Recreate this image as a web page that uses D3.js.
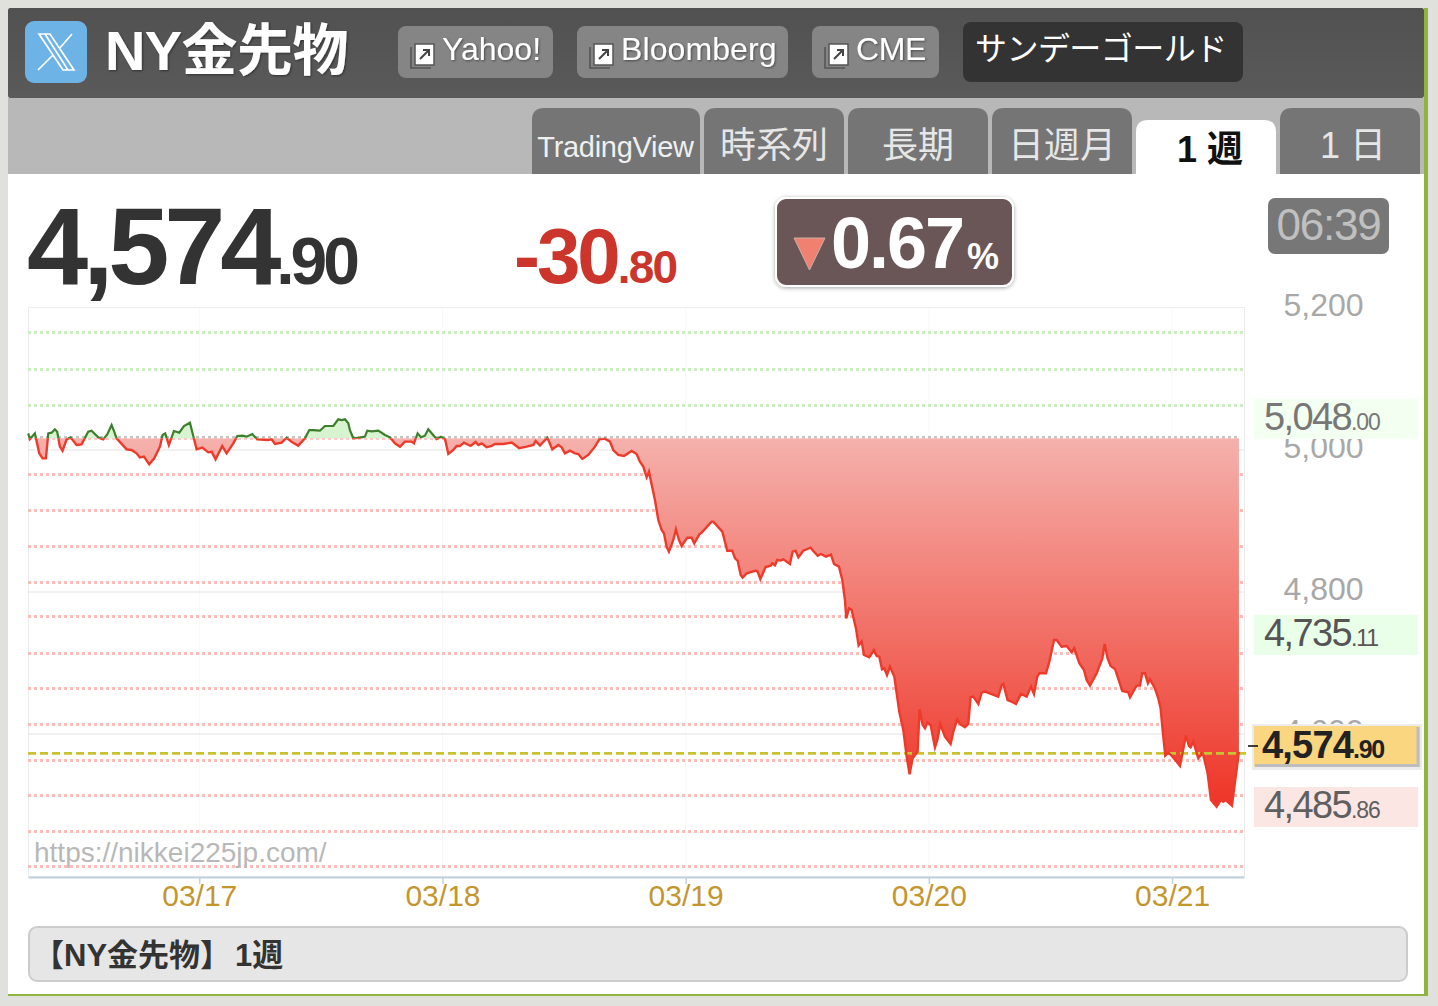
<!DOCTYPE html>
<html><head><meta charset="utf-8">
<script src="https://cdn.jsdelivr.net/npm/d3@7"></script>
<style>
html,body{margin:0;padding:0;background:#e0e0dc;overflow:hidden}
svg{display:block}
text{font-family:"Liberation Sans",Arial,sans-serif}
.cjk{font-family:"Liberation Sans","Noto Sans CJK JP",sans-serif}
</style></head><body>
<div id="chart"></div>
<script>
// hours relative to 03/17 00:00
const hours = [-16.88,-16.71,-16.22,-15.79,-15.46,-15.13,-14.90,-14.57,-14.25,-14.02,-13.75,-13.49,-13.09,-12.70,-12.11,-11.61,-10.96,-10.63,-9.97,-9.48,-9.08,-8.65,-8.39,-8.16,-7.17,-6.68,-6.19,-5.86,-5.46,-4.94,-4.44,-3.88,-3.62,-3.36,-3.00,-2.50,-1.97,-1.51,-0.92,-0.26,0.30,0.89,1.22,1.61,2.27,2.70,3.36,3.75,4.28,4.67,5.23,5.72,6.81,7.14,7.47,8.13,8.62,9.11,9.77,10.43,10.86,11.25,11.91,12.40,13.23,13.72,14.05,14.38,14.71,14.87,
15.2,15.86,16.35,16.58,17.01,17.67,18.33,18.82,19.31,19.81,20.3,20.96,21.19,21.55,21.88,22.27,22.6,23.42,23.85,24.25,24.58,25.07,25.4,25.73,26.12,26.78,27.27,27.54,27.87,28.36,28.85,29.18,30.0,30.83,31.16,31.58,32.31,32.97,33.2,33.62,34.35,34.84,35.43,35.76,36.09,36.58,37.08,37.41,37.8,38.39,39.05,39.48,40.04,40.53,40.86,41.35,41.91,42.67,43.16,43.49,43.82,44.15,44.38,44.97,
45.30,45.63,45.86,46.12,46.35,46.78,47.04,47.34,47.6,48.16,48.59,48.85,49.35,49.58,50.56,50.73,51.62,52.11,52.6,52.87,53.13,53.43,53.62,54.02,54.94,55.1,55.37,55.89,56.39,56.55,56.81,57.04,57.37,57.64,58.29,58.56,58.85,59.12,59.61,60.33,60.6,61.03,61.35,61.85,62.34,62.64,63.13,63.46,63.72,63.85,64.12,64.38,64.81,65.07,65.37,65.6,66.12,66.58,66.85,67.11,67.38,67.6,67.87,68.16,68.59,69.08,69.48,69.81,70.1,70.4,70.89,71.09,71.39,71.62,71.85,72.18,72.6,72.84,73.13,
73.59,74.15,74.41,74.81,75.07,75.56,75.89,76.12,76.39,76.88,77.21,77.54,78.85,79.18,79.35,79.77,80.17,80.6,81.09,81.65,82.08,82.37,82.7,82.9,83.56,83.89,84.35,84.61,85.1,85.6,86.09,86.35,86.85,87.31,87.57,87.9,88.56,89.12,89.35,89.64,89.94,90.37,91.09,91.68,91.85,92.5,92.83,93.06,93.33,93.62,93.82,94.31,94.64,94.87,95.07,95.33,95.63,95.96,96.32,96.78,97.37,97.67,97.83,98.1,98.59,98.92,99.08,99.51,99.84,100.4,100.83,101.06,101.26,101.91,102.6];
const prices = [5023.4,5015.5,5023.4,4995.3,4988.2,4988.2,5023.4,5024.4,5029.1,5025.8,5004.7,4999.0,5015.0,5017.8,5007.0,5008.0,5025.8,5027.2,5017.8,5015.0,5022.0,5035.2,5025.8,5016.4,5000.9,5000.0,4995.3,4989.6,4990.6,4979.8,4988.2,5004.7,5021.1,5023.4,5007.0,5026.7,5024.4,5033.8,5038.5,5000.9,5003.3,4996.7,4997.6,4986.8,5005.6,4995.3,5009.4,5019.7,5020.2,5018.8,5022.5,5015.0,5014.1,5015.0,5008.4,5010.3,5017.3,5011.7,5006.1,5016.4,5028.1,5028.1,5027.2,5033.8,5033.8,5043.2,5042.2,5043.2,5037.5,5028.1,
5016.5,5017.4,5018.8,5027.3,5026.3,5027.3,5021.2,5017.9,5009.4,5004.7,5011.8,5011.8,5009.4,5023.5,5017.9,5020.2,5029.2,5015.5,5018.8,5015.5,4994.4,5000.0,5005.7,5005.7,5010.4,5005.7,5011.3,5007.1,5009.4,5003.8,5005.7,5008.5,5008.5,5010.4,5007.1,5002.4,5004.7,5007.1,5012.7,5006.2,5017.4,5001.0,5007.1,5003.8,4995.3,4999.1,4995.3,4994.4,4987.4,4993.0,5004.7,5015.1,5016.0,5011.8,5000.0,4993.0,4991.6,4998.6,4994.4,4983.6,4976.6,4961.5,4969.5,4929.6,
4901.4,4887.3,4882.6,4863.9,4856.8,4873.3,4888.3,4873.3,4864.8,4876.5,4876.5,4868.6,4881.2,4883.6,4899.1,4899.1,4885.0,4858.2,4858.2,4847.4,4844.2,4824.0,4820.2,4826.3,4830.1,4828.7,4818.3,4835.2,4837.1,4840.4,4837.6,4845.1,4844.2,4846.0,4839.5,4856.8,4858.2,4848.8,4858.2,4862.5,4857.8,4851.2,4853.5,4849.8,4852.6,4839.5,4835.7,4816.9,4788.7,4762.9,4777.0,4774.7,4748.8,4724.9,4730.1,4711.3,4708.0,4718.3,4709.9,4708.9,4691.1,4692.5,4683.1,4694.9,4680.8,4631.5,4605.6,4568.1,4543.2,4565.7,4575.1,4634.8,4612.7,4608.0,4616.0,4612.7,4581.2,4591.6,4614.1,
4596.3,4586.0,4603.3,4620.7,4614.1,4609.4,4614.1,4651.7,4652.6,4642.3,4658.2,4659.7,4652.6,4669.0,4670.5,4647.9,4645.6,4642.3,4656.4,4652.6,4666.7,4656.4,4680.8,4685.5,4685.5,4701.9,4732.4,4732.4,4723.0,4724.0,4715.1,4720.7,4699.6,4690.2,4676.1,4668.1,4685.5,4706.6,4726.8,4706.6,4695.8,4691.6,4660.6,4658.7,4651.7,4668.1,4668.1,4685.5,4685.5,4671.4,4677.0,4664.4,4650.3,4636.2,4605.7,4569.5,4573.7,4569.5,4563.4,4555.0,4597.7,4583.1,4581.3,4589.2,4565.8,4571.9,4570.5,4544.6,4507.1,4497.7,4507.1,4504.7,4507.1,4499.1,4574.9];
const basePrice = 5016.5;
const currentLevel = 4572.6;
const greenLevels = [5165,5114,5063];
const redLevels = [4965,4915,4864,4813,4765,4714,4664,4613,4562,4513,4463,4413];
const gridTicks = [5200,5000,4800,4600];
const dayTicks = [0,24,48,72,96];
const dayLabels = ["03/17","03/18","03/19","03/20","03/21"];
const navLinks = ["Yahoo!","Bloomberg","CME"];
const tabNames = ["TradingView","時系列","長期","日週月","1 週","1 日"];
const statBoxes = [
 {main:"5,048",sub:".00",fill:"#f3fff0",color:"#777777"},
 {main:"4,735",sub:".11",fill:"#eaffe8",color:"#555555"},
 {main:"4,485",sub:".86",fill:"#fbe6e4",color:"#5f5f5f"}];

const W=1438,H=1006;
const svg=d3.select("#chart").append("svg").attr("width",W).attr("height",H);
const defs=svg.append("defs");
const gh=defs.append("linearGradient").attr("id","hdr").attr("x1",0).attr("x2",0).attr("y1",0).attr("y2",1);
gh.append("stop").attr("offset",0).attr("stop-color","#515151");
gh.append("stop").attr("offset",1).attr("stop-color","#5a5a5a");
const sh=defs.append("filter").attr("id","soft").attr("x","-20%").attr("y","-20%").attr("width","140%").attr("height","140%");
sh.append("feDropShadow").attr("dx",0).attr("dy",1).attr("stdDeviation",2).attr("flood-color","#000").attr("flood-opacity",0.35);
const ts=defs.append("filter").attr("id","tshadow").attr("x","-10%").attr("y","-10%").attr("width","120%").attr("height","130%");
ts.append("feDropShadow").attr("dx",1).attr("dy",1).attr("stdDeviation",0.8).attr("flood-color","#000").attr("flood-opacity",0.45);

function rect(x,y,w,h,fill,rx,parent){return (parent||svg).append("rect").attr("x",x).attr("y",y).attr("width",w).attr("height",h).attr("fill",fill).attr("rx",rx||0);}
function txt(x,y,s,size,fill,opt){opt=opt||{};const t=(opt.parent||svg).append("text").attr("x",x).attr("y",y).text(s).attr("font-size",size).attr("fill",fill);
 if(opt.bold)t.attr("font-weight","bold"); if(opt.anchor)t.attr("text-anchor",opt.anchor); if(opt.ls!=null)t.attr("letter-spacing",opt.ls); if(opt.cjk)t.attr("class","cjk"); if(opt.filter)t.attr("filter",opt.filter); return t;}

// page frame
rect(8,8,1416,988,"#ffffff");
rect(1424,8,4,988,"#8fb53c");
rect(8,994,1420,2,"#8fb53c");
rect(8,98,1416,76,"#b8b8b8");
rect(8,8,1416,90,"url(#hdr)",2);

// X logo
rect(25,21,62,62,"#6db3e6",9);
svg.append("path").attr("fill","none").attr("stroke","#fff").attr("stroke-width",1.7)
 .attr("d","M39,34 H50 L74,70 H63 Z M45,34 L68,70 M72,34 L59,49 M53,55 L38,70");
txt(105,70,"NY金先物",56,"#fff",{bold:true,cjk:true,ls:-0.6,filter:"url(#tshadow)"});

// nav buttons
const btnX=[[398,155],[577,211],[812,127]];
const navLs=[0,0.1,-0.4];
navLinks.forEach((n,i)=>{
 const [x,w]=btnX[i];
 rect(x,26,w,52,"#858585",8);
 const ix=x+13,iy=44;
 svg.append("path").attr("fill","none").attr("stroke","#555").attr("stroke-width",1.6).attr("d",`M${ix},${iy+3} V${iy+24} H${ix+20}`);
 rect(ix+4,iy,19,21,"#fff",0).attr("stroke","#555").attr("stroke-width",1.5);
 svg.append("path").attr("fill","none").attr("stroke","#444").attr("stroke-width",2).attr("d",`M${ix+9},${iy+15} L${ix+18},${iy+6} M${ix+12},${iy+6} H${ix+18} V${iy+12}`);
 txt(x+44,60,n,32,"#fff",{ls:navLs[i],filter:"url(#tshadow)"});
});
rect(963,22,280,60,"#333333",8);
txt(975,60,"サンデーゴールド",32,"#fff",{cjk:true,ls:-0.55});

// tabs
const tabX=[[532,168],[704,140],[848,140],[992,140],[1136,140],[1280,140]];
const tabShift=[-0.5,0,0,0,4,3];
tabNames.forEach((n,i)=>{
 const [x,w]=tabX[i], active=i==4, top=active?120:108;
 svg.append("path").attr("fill",active?"#fff":"#757575").attr("d",`M${x},174 V${top+12} Q${x},${top} ${x+12},${top} H${x+w-12} Q${x+w},${top} ${x+w},${top+12} V174 Z`);
 if(i==0) txt(x+w/2+tabShift[i],157,n,29,"#f0f0f0",{anchor:"middle",ls:-0.3});
 else txt(x+w/2+tabShift[i],active?162:158,n,36,active?"#111":"#e6e6e6",{anchor:"middle",cjk:true,bold:active});
});

// headline numbers
function priceText(x,y,main,sub,s1,s2,fill,ls1,ls2,bold){
 const t=svg.append("text").attr("x",x).attr("y",y).attr("fill",fill);
 if(bold)t.attr("font-weight","bold");
 t.append("tspan").attr("font-size",s1).attr("letter-spacing",ls1).text(main);
 t.append("tspan").attr("font-size",s2).attr("letter-spacing",ls2).text(sub);
 return t;
}
priceText(27,284,"4,574",".90",110,66,"#333333",-5.2,-4,true);
priceText(514,283,"-30",".80",78,46,"#cc352b",-3,-1.8,true);
rect(776,198,237,88,"#6b5757",10).attr("stroke","#fff").attr("stroke-width",2).attr("filter","url(#soft)");
svg.append("path").attr("d","M794,238 H825 L809.5,270 Z").attr("fill","#f08070").attr("stroke","#c9ada6").attr("stroke-width",1);
txt(831,268,"0.67",72,"#fff",{bold:true,ls:-2});
txt(967,269,"%",36,"#fff",{bold:true,ls:-1});
rect(1268,198,121,56,"#777777",7);
txt(1328.5,240,"06:39",44,"#c0c0c0",{anchor:"middle",ls:-1.2});

// chart
const x=d3.scaleLinear().domain([-16.9,103.1]).range([28,1244]);
const y=d3.scaleLinear().domain([4400,5200]).range([876,308]);
const data=hours.map((h,i)=>({h,p:prices[i]}));
const plot=svg.append("g");
plot.append("rect").attr("x",28.5).attr("y",307.5).attr("width",1216).attr("height",569).attr("fill","#fff").attr("stroke","#ececec");

// faint verticals and horizontal grid
plot.selectAll("line.v").data(dayTicks).join("line").attr("class","v").attr("x1",d=>x(d)).attr("x2",d=>x(d)).attr("y1",308).attr("y2",876).attr("stroke","#f8f8f8");
plot.selectAll("line.g").data(gridTicks.slice(1)).join("line").attr("class","g").attr("x1",28).attr("x2",1244).attr("y1",d=>y(d)).attr("y2",d=>y(d)).attr("stroke","#e4e4e4").attr("stroke-width",1.2);

const dotted=(vals,col)=>plot.append("g").selectAll("line").data(vals).join("line")
 .attr("x1",28).attr("x2",1244).attr("y1",d=>Math.floor(y(d))+0.5).attr("y2",d=>Math.floor(y(d))+0.5).attr("stroke",col).attr("stroke-width",3).attr("stroke-dasharray","3 3");
dotted(greenLevels,"#c9efbf");
dotted(redLevels,"#fdbcb8");
plot.append("line").attr("x1",28).attr("x2",1240).attr("y1",437).attr("y2",437).attr("stroke","#c4c4c4").attr("stroke-width",2).attr("stroke-dasharray","3 3");
plot.append("line").attr("x1",28).attr("x2",1240).attr("y1",439).attr("y2",439).attr("stroke","#fdbcb8").attr("stroke-width",1.5).attr("stroke-dasharray","3 3");

const grad=defs.append("linearGradient").attr("id","redfill").attr("gradientUnits","userSpaceOnUse").attr("x1",0).attr("x2",0).attr("y1",y(basePrice)).attr("y2",806);
grad.append("stop").attr("offset",0).attr("stop-color","#f5b1ac");
grad.append("stop").attr("offset",1).attr("stop-color","#ee3527");
defs.append("clipPath").attr("id","clipUp").append("rect").attr("x",0).attr("y",0).attr("width",W).attr("height",y(basePrice));
defs.append("clipPath").attr("id","clipDn").append("rect").attr("x",0).attr("y",y(basePrice)).attr("width",W).attr("height",H);

const area=d3.area().x(d=>x(d.h)).y0(y(basePrice)).y1(d=>y(d.p));
const line=d3.line().x(d=>x(d.h)).y(d=>y(d.p));
plot.append("path").datum(data).attr("d",area).attr("fill","#d8f3d0").attr("clip-path","url(#clipUp)");
plot.append("path").datum(data).attr("d",area).attr("fill","url(#redfill)").attr("clip-path","url(#clipDn)");
plot.append("line").attr("x1",28).attr("x2",1246).attr("y1",y(currentLevel)).attr("y2",y(currentLevel)).attr("stroke","#c9c332").attr("stroke-width",2.8).attr("stroke-dasharray","8 4");
plot.append("path").datum(data).attr("d",line).attr("fill","none").attr("stroke","#3d7f2c").attr("stroke-width",2.2).attr("clip-path","url(#clipUp)");
plot.append("path").datum(data).attr("d",line).attr("fill","none").attr("stroke","#ee3a2a").attr("stroke-width",2.4).attr("clip-path","url(#clipDn)");

txt(34,862,"https://nikkei225jp.com/",28,"#b8b8b8",{});

// x axis
const xAxis=svg.append("g").attr("transform","translate(0,877)").call(d3.axisBottom(x).tickValues(dayTicks).tickFormat((d,i)=>dayLabels[i]).tickSizeInner(7).tickSizeOuter(0).tickPadding(4));
xAxis.select(".domain").attr("stroke","#c0d0e0").attr("stroke-width",2);
xAxis.selectAll(".tick line").attr("stroke","#c0d0e0").attr("stroke-width",1.5);
xAxis.selectAll("text").attr("font-size",30).attr("font-family",'"Liberation Sans",Arial,sans-serif').attr("fill","#c4962e").attr("y",0).attr("dy",29);

// y axis labels
const yAxis=svg.append("g").attr("transform","translate(1323.5,0)").call(d3.axisRight(y).tickValues(gridTicks).tickFormat(d3.format(",")).tickSize(0).tickPadding(0));
yAxis.select(".domain").remove();
yAxis.selectAll("text").attr("font-size",32).attr("font-family",'"Liberation Sans",Arial,sans-serif').attr("fill","#a8a8a8").attr("text-anchor","middle").attr("dy",7.5);

// stat boxes
const boxY=[399,615,787], boxBase=[430,646,818];
statBoxes.forEach((b,i)=>{
 rect(1254,boxY[i],164,40,b.fill);
 priceText(1264,boxBase[i],b.main,b.sub,38,23,b.color,-1.6,-1.2,false);
});
rect(1252,724,170,46,"#ececec");
rect(1254,726,166,41,"#fad680");
svg.append("path").attr("fill","none").attr("stroke","#bdbdbd").attr("stroke-width",3).attr("d","M1418,727 V765.5 H1255");
svg.append("line").attr("x1",1248).attr("x2",1258).attr("y1",746).attr("y2",746).attr("stroke","#111").attr("stroke-width",1.6);
priceText(1262,758,"4,574",".90",38,25,"#222222",-0.8,-1.4,true);

// caption
rect(29,927,1378,54,"#e6e6e6",8).attr("stroke","#cccccc").attr("stroke-width",2);
txt(33,966,"【NY金先物】",31,"#333333",{bold:true,cjk:true});
txt(235,966,"1週",31,"#333333",{bold:true,cjk:true});
</script>
</body></html>
